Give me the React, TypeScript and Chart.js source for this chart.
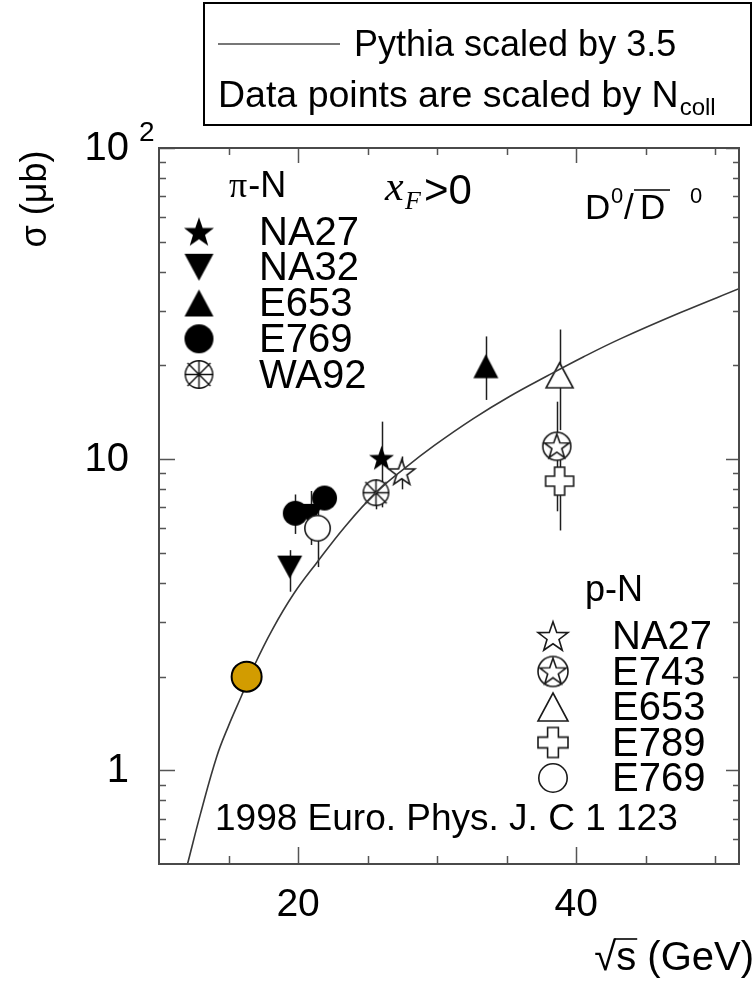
import React, { useEffect, useRef } from 'react';
import { Chart, registerables } from 'chart.js';
Chart.register(...registerables);

// ---------- data ----------
const X_MIN = 10;
const X_MAX = 51.7;
const Y_MIN = 0.5;
const Y_MAX = 100;

const pythiaX = [12.05, 13.0, 14.16, 15.0, 15.92, 16.87, 18.16, 19.7, 21.33, 23.4, 25.56, 27.7, 29.8, 32.6, 35.2, 37.9, 40.5, 43.2, 47.5, 51.7];
const pythiaY = [0.5, 0.73, 1.11, 1.39, 1.73, 2.18, 2.84, 3.7, 4.64, 6.09, 7.78, 9.38, 11.07, 13.5, 15.9, 18.5, 21.3, 24.4, 29.6, 35.3];

// pi-N data (x = sqrt(s), y = sigma, lo/hi = error bar ends)
const piNA27 = [{ x: 26.0, y: 10.1, lo: 7.0, hi: 13.2 }];
const piNA32 = [
  { x: 19.4, y: 4.5, lo: 3.75, hi: 5.1 },
  { x: 20.9, y: 6.6, lo: 5.3, hi: 7.9 },
];
const piE653 = [{ x: 33.5, y: 19.9, lo: 15.5, hi: 24.8 }];
const piE769 = [
  { x: 19.8, y: 6.7, lo: 5.75, hi: 7.7 },
  { x: 21.9, y: 7.5, lo: 7.0, hi: 8.0 },
];
const piWA92 = [{ x: 25.6, y: 7.8, lo: 6.9, hi: 8.6 }];

// p-N data
const pNA27 = [{ x: 27.45, y: 9.1, lo: 8.0, hi: 10.2 }];
const pE743 = [{ x: 38.6, y: 11.0, lo: 6.8, hi: 15.3 }];
const pE653 = [{ x: 38.8, y: 18.6, lo: 12.4, hi: 26.1 }];
const pE789 = [{ x: 38.8, y: 8.5, lo: 5.9, hi: 11.1 }];
const pE769 = [{ x: 21.4, y: 6.0, lo: 4.5, hi: 7.5 }];

const highlight = [{ x: 16.3, y: 2.0 }];

const xMajorTicks = [20, 40];
const xMinorTicks = [15, 25, 30, 35, 45, 50];
const yMajorTicks = [1, 10, 100];
const yMinorTicks = [0.6, 0.7, 0.8, 0.9, 2, 3, 4, 5, 6, 7, 8, 9, 20, 30, 40, 50, 60, 70, 80, 90];
const yTickLabels = ['1', '10', '10'];
const xTickLabels = ['20', '40'];

const piLegend = ['NA27', 'NA32', 'E653', 'E769', 'WA92'];
const pLegend = ['NA27', 'E743', 'E653', 'E789', 'E769'];

const SANS = '"Liberation Sans", Arial, Helvetica, sans-serif';
const SERIF = '"Liberation Serif", "Times New Roman", serif';

// ---------- markers ----------
type Kind = 'starF' | 'starO' | 'starC' | 'triF' | 'triO' | 'triD' | 'circF' | 'circO' | 'wa92' | 'cross';

function makeMarker(kind: Kind, s: number, h?: number): HTMLCanvasElement {
  const pad = 4;
  const c = document.createElement('canvas');
  const size = Math.ceil(s + pad * 2);
  c.width = size;
  c.height = size;
  const ctx = c.getContext('2d')!;
  const cx = size / 2;
  const cy = size / 2;
  const r = s / 2;
  ctx.lineWidth = 1.6;
  ctx.strokeStyle = '#1a1a1a';
  ctx.fillStyle = '#000';
  ctx.lineJoin = 'miter';
  const star = (R: number, oy: number) => {
    ctx.beginPath();
    for (let i = 0; i < 10; i++) {
      const rr = i % 2 === 0 ? R : R * 0.4;
      const a = -Math.PI / 2 + (i * Math.PI) / 5;
      const px = cx + rr * Math.cos(a);
      const py = cy + oy + rr * Math.sin(a);
      if (i === 0) ctx.moveTo(px, py);
      else ctx.lineTo(px, py);
    }
    ctx.closePath();
  };
  const hh = h ?? s;
  switch (kind) {
    case 'starF': {
      const R = s / 1.902;
      star(R, R * 0.095);
      ctx.fill();
      break;
    }
    case 'starO': {
      const R = s / 1.902;
      star(R, R * 0.095);
      ctx.fillStyle = '#fff';
      ctx.fill();
      ctx.stroke();
      break;
    }
    case 'starC': {
      ctx.beginPath();
      ctx.arc(cx, cy, r, 0, Math.PI * 2);
      ctx.fillStyle = '#fff';
      ctx.fill();
      ctx.stroke();
      star(r * 0.93, r * 0.05);
      ctx.stroke();
      break;
    }
    case 'triF':
    case 'triO': {
      ctx.beginPath();
      ctx.moveTo(cx, cy - hh / 2);
      ctx.lineTo(cx + s / 2, cy + hh / 2);
      ctx.lineTo(cx - s / 2, cy + hh / 2);
      ctx.closePath();
      if (kind === 'triF') ctx.fill();
      else {
        ctx.fillStyle = '#fff';
        ctx.fill();
        ctx.stroke();
      }
      break;
    }
    case 'triD': {
      ctx.beginPath();
      ctx.moveTo(cx - s / 2, cy - hh / 2);
      ctx.lineTo(cx + s / 2, cy - hh / 2);
      ctx.lineTo(cx, cy + hh / 2);
      ctx.closePath();
      ctx.fill();
      break;
    }
    case 'circF': {
      ctx.beginPath();
      ctx.arc(cx, cy, r, 0, Math.PI * 2);
      ctx.fill();
      break;
    }
    case 'circO': {
      ctx.beginPath();
      ctx.arc(cx, cy, r - 0.8, 0, Math.PI * 2);
      ctx.fillStyle = '#fff';
      ctx.fill();
      ctx.stroke();
      break;
    }
    case 'wa92': {
      ctx.lineWidth = 1.4;
      ctx.strokeStyle = '#111';
      ctx.beginPath();
      ctx.arc(cx, cy, r - 0.8, 0, Math.PI * 2);
      ctx.fillStyle = '#fff';
      ctx.fill();
      ctx.stroke();
      ctx.beginPath();
      ctx.moveTo(cx - r, cy);
      ctx.lineTo(cx + r, cy);
      ctx.moveTo(cx, cy - r);
      ctx.lineTo(cx, cy + r);
      const d = r * 1.12 * Math.SQRT1_2;
      ctx.moveTo(cx - d, cy - d);
      ctx.lineTo(cx + d, cy + d);
      ctx.moveTo(cx + d, cy - d);
      ctx.lineTo(cx - d, cy + d);
      ctx.stroke();
      break;
    }
    case 'cross': {
      const a = s * 0.18;
      ctx.beginPath();
      ctx.moveTo(cx - a, cy - r);
      ctx.lineTo(cx + a, cy - r);
      ctx.lineTo(cx + a, cy - a);
      ctx.lineTo(cx + r, cy - a);
      ctx.lineTo(cx + r, cy + a);
      ctx.lineTo(cx + a, cy + a);
      ctx.lineTo(cx + a, cy + r);
      ctx.lineTo(cx - a, cy + r);
      ctx.lineTo(cx - a, cy + a);
      ctx.lineTo(cx - r, cy + a);
      ctx.lineTo(cx - r, cy - a);
      ctx.lineTo(cx - a, cy - a);
      ctx.closePath();
      ctx.fillStyle = '#fff';
      ctx.fill();
      ctx.stroke();
      break;
    }
  }
  return c;
}

const errorSets = [piNA27, piNA32, piE653, piE769, piWA92, pNA27, pE743, pE653, pE789, pE769];

export default function App() {
  const ref = useRef<HTMLCanvasElement | null>(null);

  useEffect(() => {
    const canvas = ref.current;
    if (!canvas) return;

    const m = {
      starF: makeMarker('starF', 25),
      starO: makeMarker('starO', 26),
      starC: makeMarker('starC', 28),
      triF: makeMarker('triF', 25, 24),
      triO: makeMarker('triO', 27, 25),
      triD: makeMarker('triD', 25, 23),
      circF: makeMarker('circF', 25),
      circO: makeMarker('circO', 27),
      wa92: makeMarker('wa92', 27),
      cross: makeMarker('cross', 28),
    };
    const lg = {
      starF: makeMarker('starF', 30),
      triD: makeMarker('triD', 29, 27),
      triF: makeMarker('triF', 29, 27),
      circF: makeMarker('circF', 29),
      wa92: makeMarker('wa92', 29),
      starO: makeMarker('starO', 30),
      starC: makeMarker('starC', 30),
      triO: makeMarker('triO', 30, 28),
      cross: makeMarker('cross', 30),
      circO: makeMarker('circO', 30),
    };

    const pts = (arr: { x: number; y: number }[]) => arr.map((p) => ({ x: p.x, y: p.y }));
    const markerSet = (arr: { x: number; y: number }[], style: HTMLCanvasElement, order: number) => ({
      type: 'scatter' as const,
      data: pts(arr),
      pointStyle: style,
      pointRadius: 6,
      order,
    });

    const errorBarPlugin = {
      id: 'errorBars',
      beforeDatasetsDraw(chart: any) {
        const { ctx, chartArea } = chart;
        const xs = chart.scales.x;
        const ys = chart.scales.y;
        ctx.save();
        ctx.beginPath();
        ctx.rect(chartArea.left, chartArea.top, chartArea.right - chartArea.left, chartArea.bottom - chartArea.top);
        ctx.clip();
        ctx.strokeStyle = '#1e1e1e';
        ctx.lineWidth = 1.5;
        for (const set of errorSets) {
          for (const p of set) {
            const px = Math.round(xs.getPixelForValue(p.x)) + 0.5;
            ctx.beginPath();
            ctx.moveTo(px, ys.getPixelForValue(p.lo));
            ctx.lineTo(px, ys.getPixelForValue(p.hi));
            ctx.stroke();
          }
        }
        ctx.restore();
      },
    };

    const decorPlugin = {
      id: 'decor',
      afterDraw(chart: any) {
        const { ctx, chartArea } = chart;
        const xs = chart.scales.x;
        const ys = chart.scales.y;
        const L = chartArea.left;
        const R = chartArea.right;
        const T = chartArea.top;
        const B = chartArea.bottom;
        ctx.save();
        // ticks
        ctx.strokeStyle = '#555';
        ctx.lineWidth = 1.5;
        ctx.beginPath();
        for (const v of yMajorTicks) {
          const py = Math.round(ys.getPixelForValue(v)) + 0.5;
          ctx.moveTo(L, py);
          ctx.lineTo(L + 16, py);
          ctx.moveTo(R, py);
          ctx.lineTo(R - 13, py);
        }
        for (const v of yMinorTicks) {
          const py = Math.round(ys.getPixelForValue(v)) + 0.5;
          ctx.moveTo(L, py);
          ctx.lineTo(L + 7, py);
          ctx.moveTo(R, py);
          ctx.lineTo(R - 6, py);
        }
        for (const v of xMajorTicks) {
          const px = Math.round(xs.getPixelForValue(v)) + 0.5;
          ctx.moveTo(px, B);
          ctx.lineTo(px, B - 17);
          ctx.moveTo(px, T);
          ctx.lineTo(px, T + 15);
        }
        for (const v of xMinorTicks) {
          const px = Math.round(xs.getPixelForValue(v)) + 0.5;
          ctx.moveTo(px, B);
          ctx.lineTo(px, B - 8);
          ctx.moveTo(px, T);
          ctx.lineTo(px, T + 7);
        }
        ctx.stroke();
        // frame
        ctx.strokeStyle = '#4a4a4a';
        ctx.lineWidth = 2;
        ctx.strokeRect(L, T, R - L, B - T);

        // tick labels
        ctx.fillStyle = '#000';
        ctx.font = `40px ${SANS}`;
        ctx.textAlign = 'right';
        ctx.textBaseline = 'middle';
        yMajorTicks.forEach((v, i) => {
          ctx.fillText(yTickLabels[i], 129, ys.getPixelForValue(v) + 1);
        });
        ctx.font = `28px ${SANS}`;
        ctx.textAlign = 'left';
        ctx.textBaseline = 'alphabetic';
        ctx.fillText('2', 139, ys.getPixelForValue(100) - 7);

        ctx.font = `39px ${SANS}`;
        ctx.textAlign = 'center';
        xMajorTicks.forEach((v, i) => {
          ctx.fillText(xTickLabels[i], xs.getPixelForValue(v), 916);
        });

        // axis titles
        ctx.save();
        ctx.translate(46, 199);
        ctx.rotate(-Math.PI / 2);
        ctx.font = `36px ${SANS}`;
        ctx.textAlign = 'center';
        ctx.fillText('σ (μb)', 0, 0);
        ctx.restore();

        ctx.font = `40px ${SANS}`;
        ctx.textAlign = 'left';
        const sq = '√';
        const rest = 's (GeV)';
        const wSq = ctx.measureText(sq).width;
        const wS = ctx.measureText('s').width;
        const wRest = ctx.measureText(rest).width;
        const x0 = 754 - wSq - wRest;
        const base = 970;
        ctx.fillText(sq, x0, base);
        ctx.fillText(rest, x0 + wSq, base);
        ctx.strokeStyle = '#000';
        ctx.lineWidth = 1.6;
        ctx.beginPath();
        ctx.moveTo(x0 + wSq - 2, base - 31);
        ctx.lineTo(x0 + wSq + wS + 1, base - 31);
        ctx.stroke();

        // top legend box
        ctx.strokeStyle = '#000';
        ctx.lineWidth = 2;
        ctx.strokeRect(204, 3, 547, 122);
        ctx.strokeStyle = '#4a4a4a';
        ctx.lineWidth = 1.6;
        ctx.beginPath();
        ctx.moveTo(218, 44);
        ctx.lineTo(340, 44);
        ctx.stroke();
        ctx.fillStyle = '#000';
        ctx.font = `36px ${SANS}`;
        ctx.fillText('Pythia scaled by 3.5', 354, 56);
        const dataTxt = 'Data points are scaled by N';
        ctx.font = `37.5px ${SANS}`;
        ctx.fillText(dataTxt, 218, 107);
        const wd = ctx.measureText(dataTxt).width;
        ctx.font = `24px ${SANS}`;
        ctx.fillText('coll', 218 + wd + 1, 115);

        // inside annotations
        ctx.font = `36px ${SERIF}`;
        ctx.fillText('π', 229, 197);
        const wpi = ctx.measureText('π').width;
        ctx.font = `36px ${SANS}`;
        ctx.fillText('-N', 229 + wpi + 1, 197);

        ctx.font = `italic 42px ${SERIF}`;
        ctx.fillText('x', 385, 200);
        ctx.font = `italic 26px ${SERIF}`;
        ctx.fillText('F', 405, 209);
        ctx.font = `42px ${SANS}`;
        ctx.fillText('>0', 424, 204);

        // D0 / D0bar
        ctx.font = `35px ${SANS}`;
        ctx.fillText('D', 585, 219);
        ctx.font = `22px ${SANS}`;
        ctx.fillText('0', 611, 203);
        ctx.font = `35px ${SANS}`;
        ctx.fillText('/', 624, 219);
        ctx.fillText('D', 640, 219);
        ctx.strokeStyle = '#000';
        ctx.lineWidth = 1.6;
        ctx.beginPath();
        ctx.moveTo(634, 190);
        ctx.lineTo(670, 190);
        ctx.stroke();
        ctx.font = `22px ${SANS}`;
        ctx.fillText('0', 690, 203);

        // pi-N legend
        const piStyles = [lg.starF, lg.triD, lg.triF, lg.circF, lg.wa92];
        const piRows = [231.5, 267.3, 303, 338.8, 374.5];
        ctx.font = `40px ${SANS}`;
        ctx.textBaseline = 'middle';
        piStyles.forEach((im, i) => {
          ctx.drawImage(im, 199 - im.width / 2, piRows[i] - im.height / 2);
          ctx.fillText(piLegend[i], 259, piRows[i] + 2);
        });

        // p-N legend
        ctx.textBaseline = 'alphabetic';
        ctx.font = `36px ${SANS}`;
        ctx.fillText('p-N', 585, 601);
        const pStyles = [lg.starO, lg.starC, lg.triO, lg.cross, lg.circO];
        const pRows = [636, 671.5, 707, 742.5, 778];
        ctx.font = `40px ${SANS}`;
        ctx.textBaseline = 'middle';
        pStyles.forEach((im, i) => {
          ctx.drawImage(im, 553 - im.width / 2, pRows[i] - im.height / 2);
          ctx.fillText(pLegend[i], 612, pRows[i] + 2);
        });

        ctx.textBaseline = 'alphabetic';
        ctx.font = `37px ${SANS}`;
        ctx.fillText('1998 Euro. Phys. J. C 1 123', 215, 830);
        ctx.restore();
      },
    };

    const chart = new Chart(canvas, {
      type: 'scatter',
      data: {
        datasets: [
          {
            type: 'scatter',
            data: pts(highlight),
            pointStyle: 'circle',
            pointRadius: 15,
            backgroundColor: '#D29C00',
            borderColor: '#000',
            borderWidth: 2,
            order: 0,
          } as any,
          {
            type: 'line',
            data: pythiaX.map((x, i) => ({ x, y: pythiaY[i] })),
            borderColor: '#383838',
            borderWidth: 1.6,
            pointRadius: 0,
            showLine: true,
            fill: false,
            tension: 0.4,
            order: 1,
          } as any,
          markerSet(pE769, m.circO, 2),
          markerSet(piE769, m.circF, 3),
          markerSet(piNA32, m.triD, 4),
          markerSet(pNA27, m.starO, 5),
          markerSet(piWA92, m.wa92, 6),
          markerSet(piNA27, m.starF, 7),
          markerSet(pE789, m.cross, 8),
          markerSet(pE743, m.starC, 9),
          markerSet(pE653, m.triO, 10),
          markerSet(piE653, m.triF, 11),
        ] as any,
      },
      options: {
        responsive: false,
        maintainAspectRatio: false,
        animation: false,
        devicePixelRatio: 1,
        events: [],
        layout: { padding: { left: 159, right: 5, top: 148, bottom: 120 } },
        plugins: { legend: { display: false }, tooltip: { enabled: false } },
        scales: {
          x: { type: 'linear', min: X_MIN, max: X_MAX, display: false },
          y: { type: 'logarithmic', min: Y_MIN, max: Y_MAX, display: false },
        },
      } as any,
      plugins: [errorBarPlugin, decorPlugin],
    });
    return () => chart.destroy();
  }, []);

  return (
    <div style={{ position: 'fixed', left: 0, top: 0, width: 756, height: 984, background: '#fff' }}>
      <canvas ref={ref} width={756} height={984} style={{ width: 756, height: 984, display: 'block' }} />
    </div>
  );
}
